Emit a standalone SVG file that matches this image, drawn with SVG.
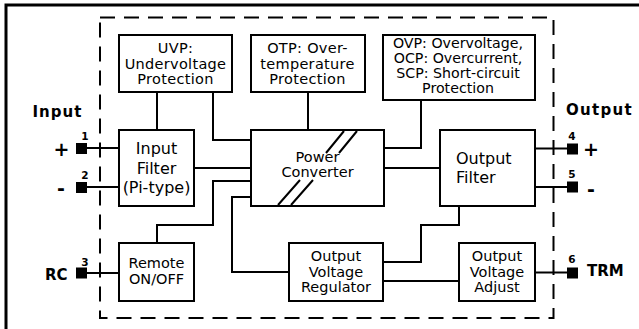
<svg xmlns="http://www.w3.org/2000/svg" width="639" height="329" viewBox="0 0 639 329">
<style>
  .box { fill: #fff; stroke: #000; stroke-width: 2; }
  .wire { fill: none; stroke: #000; stroke-width: 2; }
  .t { font-family: "DejaVu Sans", Verdana, sans-serif; font-size: 14.5px; fill: #000; text-anchor: middle; }
  .top { letter-spacing: 0.3px; }
  .lbl { font-family: "DejaVu Sans", Verdana, sans-serif; font-weight: bold; font-size: 15px; fill: #000; }
  .num { font-family: "DejaVu Sans", Verdana, sans-serif; font-weight: bold; font-size: 10.5px; fill: #000; text-anchor: middle; }
  .sign { font-family: "DejaVu Sans", Verdana, sans-serif; font-weight: bold; font-size: 19px; fill: #000; text-anchor: middle; }
  .pin { fill: #000; }
</style>
<rect width="639" height="329" fill="#fff"/>
<path d="M6,329 V5 H639" fill="none" stroke="#000" stroke-width="3"/>
<rect x="100" y="17.5" width="453.5" height="300.5" fill="none" stroke="#000" stroke-width="2" stroke-dasharray="15 9"/>

<g id="connectors" class="wire">
  <path d="M157,92 V130"/>
  <path d="M213,92 V140 H251"/>
  <path d="M308,92 V130"/>
  <path d="M421,100 V148 H384"/>
  <path d="M194,168 H251"/>
  <path d="M384,168 H440"/>
  <path d="M251,181 H213 V225 H157 V243"/>
  <path d="M251,197 H232 V272 H289"/>
  <path d="M459,206 V225 H421 V262 H383"/>
  <path d="M383,281 H459"/>
  <path d="M87,148 H119"/>
  <path d="M87,187 H119"/>
  <path d="M87,273 H119"/>
  <path d="M535,148.5 H567"/>
  <path d="M535,187 H567"/>
  <path d="M535,272.5 H567"/>
</g>

<g id="uvp">
  <rect class="box" x="119" y="35" width="113" height="57"/>
  <text class="t top" x="175.5" y="53">UVP:<tspan x="175.5" dy="15.6">Undervoltage</tspan><tspan x="175.5" dy="15.6">Protection</tspan></text>
</g>
<g id="otp">
  <rect class="box" x="251" y="35" width="114" height="57"/>
  <text class="t top" x="307.5" y="53">OTP: Over-<tspan x="307.5" dy="15.6">temperature</tspan><tspan x="307.5" dy="15.6">Protection</tspan></text>
</g>
<g id="ovp">
  <rect class="box" x="383" y="35" width="152" height="65"/>
  <text class="t" style="font-size:14.2px" x="458" y="48">OVP: Overvoltage,<tspan x="458" dy="15">OCP: Overcurrent,</tspan><tspan x="458" dy="15">SCP: Short-circuit</tspan><tspan x="458" dy="15">Protection</tspan></text>
</g>
<g id="input-filter">
  <rect class="box" x="119" y="130" width="75" height="76"/>
  <text class="t" style="font-size:16px" x="156.5" y="154">Input<tspan x="156.5" dy="19.5">Filter</tspan><tspan x="156.5" dy="19.5">(Pi-type)</tspan></text>
</g>
<g id="power-converter">
  <rect class="box" x="251" y="130" width="133" height="76"/>
  <path class="wire" d="M278,205 L300,180 M326,153 L344,131 M291,205 L313,180 M339,153 L357,131"/>
  <text class="t" x="317.5" y="161.7">Power<tspan x="317.5" dy="15">Converter</tspan></text>
</g>
<g id="output-filter">
  <rect class="box" x="440" y="130" width="95" height="76"/>
  <text class="t" style="font-size:16px;text-anchor:start" x="456" y="163.5">Output<tspan x="456" dy="19.8">Filter</tspan></text>
</g>
<g id="remote">
  <rect class="box" x="119" y="243" width="75" height="58"/>
  <text class="t" x="156.5" y="268">Remote<tspan x="156.5" dy="16">ON/OFF</tspan></text>
</g>
<g id="regulator">
  <rect class="box" x="289" y="243" width="94" height="58"/>
  <text class="t" x="336" y="261">Output<tspan x="336" dy="15.5">Voltage</tspan><tspan x="336" dy="15.5">Regulator</tspan></text>
</g>
<g id="adjust">
  <rect class="box" x="459" y="243" width="76" height="58"/>
  <text class="t" x="497" y="261">Output<tspan x="497" dy="15.5">Voltage</tspan><tspan x="497" dy="15.5">Adjust</tspan></text>
</g>

<g id="pin1">
  <rect class="pin" x="76" y="143" width="11" height="11"/>
  <text class="num" x="85" y="140">1</text>
  <text class="sign" x="61.5" y="155.5">+</text>
</g>
<g id="pin2">
  <rect class="pin" x="76" y="182" width="11" height="11"/>
  <text class="num" x="85" y="179">2</text>
  <text class="sign" x="61" y="195">-</text>
</g>
<g id="pin3">
  <rect class="pin" x="76" y="267.5" width="11" height="11"/>
  <text class="num" x="85" y="265.5">3</text>
  <text class="lbl" x="45" y="280">RC</text>
</g>
<g id="pin4">
  <rect class="pin" x="567" y="143.5" width="11" height="11"/>
  <text class="num" x="572" y="139.5">4</text>
  <text class="sign" x="591" y="156">+</text>
</g>
<g id="pin5">
  <rect class="pin" x="567" y="181.5" width="11" height="11"/>
  <text class="num" x="572" y="177.7">5</text>
  <text class="sign" x="591" y="196">-</text>
</g>
<g id="pin6">
  <rect class="pin" x="567" y="267.5" width="11" height="11"/>
  <text class="num" x="572" y="263">6</text>
  <text class="lbl" x="587" y="276.3">TRM</text>
</g>
<text class="lbl" x="32.5" y="117.3" style="letter-spacing:1px">Input</text>
<text class="lbl" x="566" y="115" style="letter-spacing:1.3px">Output</text>
</svg>
